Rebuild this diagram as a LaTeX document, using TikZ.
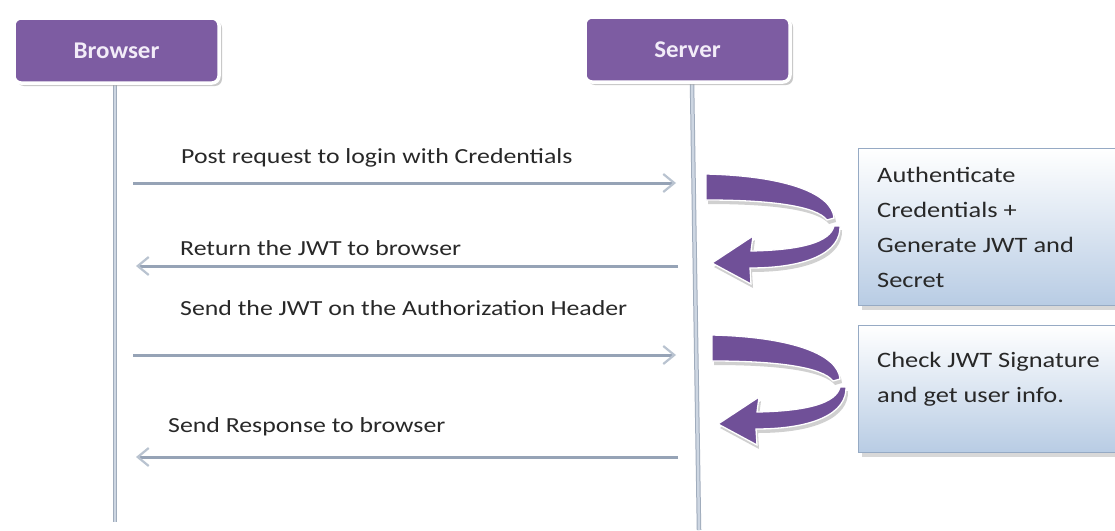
\documentclass[tikz,border=0pt]{standalone}
\usepackage{fontspec}
\setmainfont{Carlito}
\newfontfamily\widefont{Carlito}[FakeStretch=1.2]
\newfontfamily\titlefont{Carlito}[FakeStretch=1.04]
\usetikzlibrary{arrows.meta,shadows}
\definecolor{actorpurple}{RGB}{125,92,162}
\definecolor{curvepurple}{RGB}{112,80,152}
\definecolor{actortext}{RGB}{242,236,248}
\definecolor{lifeline}{RGB}{205,214,226}
\definecolor{lifeedge}{RGB}{160,172,188}
\definecolor{msgline}{RGB}{150,163,182}
\definecolor{msghead}{RGB}{185,195,208}
\definecolor{notebottom}{RGB}{184,204,228}
\definecolor{noteedge}{RGB}{150,170,196}
\definecolor{txt}{RGB}{40,40,40}
\tikzset{
  actor/.style={rectangle, rounded corners=7pt, fill=actorpurple, draw=white, line width=3.5pt,
    minimum width=205pt, minimum height=65pt, text=actortext,
    font=\titlefont\fontsize{24}{28}\selectfont\bfseries,
    drop shadow={shadow xshift=3pt, shadow yshift=-3pt, fill=black!35, opacity=0.6}},
  lifeouter/.style={draw=lifeedge, line width=4.5pt},
  lifeinner/.style={draw=lifeline, line width=2.5pt},
  msg/.style={draw=msgline, line width=3pt,
    -{Straight Barb[length=11pt,width=18pt,line width=2.2pt,color=msghead]}},
  msglabel/.style={anchor=base west, inner sep=0pt, text=txt, font=\widefont\fontsize{21.5}{26}\selectfont},
  note/.style={rectangle, anchor=north west, draw=noteedge, line width=1.2pt,
    top color=white, bottom color=notebottom, minimum width=262pt,
    drop shadow={shadow xshift=3pt, shadow yshift=-4pt, fill=black!30, opacity=0.5}},
  notetext/.style={anchor=north west, inner sep=0pt, align=left, text=txt},
  curvarrow/.pic={
    \begin{scope}[shift={(2,4)}]
      \fill[black!30, opacity=0.6] (0,0) .. controls (82,2) and (126,20) .. (128,44) -- (121,46) .. controls (110,32) and (65,26) .. (0,26) -- cycle;
      \fill[black!30, opacity=0.6] (128,52) .. controls (124,68) and (96,76) .. (45,77) -- (47,62) -- (6,89) -- (45,110) -- (44,94) .. controls (102,94) and (135,78) .. (134,52) -- cycle;
    \end{scope}
    \filldraw[fill=curvepurple, draw=white, line width=1.3pt] (0,0) .. controls (82,2) and (126,20) .. (128,44) -- (121,46) .. controls (110,32) and (65,26) .. (0,26) -- cycle;
    \filldraw[fill=curvepurple, draw=white, line width=1.3pt] (128,52) .. controls (124,68) and (96,76) .. (45,77) -- (47,62) -- (6,89) -- (45,110) -- (44,94) .. controls (102,94) and (135,78) .. (134,52) -- cycle;
  }
}
\begin{document}
\begin{tikzpicture}[x=1pt,y=-1pt]
\useasboundingbox[fill=white] (0,0) rectangle (1115,530);

% lifelines
\coordinate (bt) at (115,84);
\coordinate (bb) at (115,522);
\coordinate (st) at (692,83);
\coordinate (sb) at (699,530);
\draw[lifeouter] (bt) -- (bb);
\draw[lifeinner] (bt) -- (bb);
\draw[lifeouter] (st) -- (sb);
\draw[lifeinner] (st) -- (sb);

% actors
\node[actor] (browser) at (116.5,50.5) {Browser};
\node[actor] (server) at (687.5,49.5) {Server};

% message endpoints
\coordinate (b1) at (133,183);
\coordinate (s1) at (676,183);
\coordinate (s2) at (678,266);
\coordinate (b2) at (136,266);
\coordinate (b3) at (133,355);
\coordinate (s3) at (676,355);
\coordinate (s4) at (678,457);
\coordinate (b4) at (136,457);

\draw[msg] (b1) -- (s1);
\draw[msg] (s2) -- (b2);
\draw[msg] (b3) -- (s3);
\draw[msg] (s4) -- (b4);

\node[msglabel] (l1) at (181,163) {Post request to login with Credentials};
\node[msglabel] (l2) at (180,255) {Return the JWT to browser};
\node[msglabel] (l3) at (180,315) {Send the JWT on the Authorization Header};
\node[msglabel] (l4) at (168,432) {Send Response to browser};

% curved arrows
\pic (ca1) at (706,174) {curvarrow};
\begin{scope}[shift={(712,335)}, yscale=1.165]
\pic (ca2) at (0,0) {curvarrow};
\end{scope}

% notes
\node[note, minimum height=157pt] (n1) at (858,148) {};
\node[note, minimum height=127pt] (n2) at (858,325) {};
\node[notetext, font=\widefont\fontsize{22}{35}\selectfont] (t1) at (877,167) {Authenticate\\Credentials +\\Generate JWT and\\Secret};
\node[notetext, font=\widefont\fontsize{22}{35}\selectfont] (t2) at (877,352) {Check JWT Signature\\and get user info.};
\end{tikzpicture}
\end{document}
